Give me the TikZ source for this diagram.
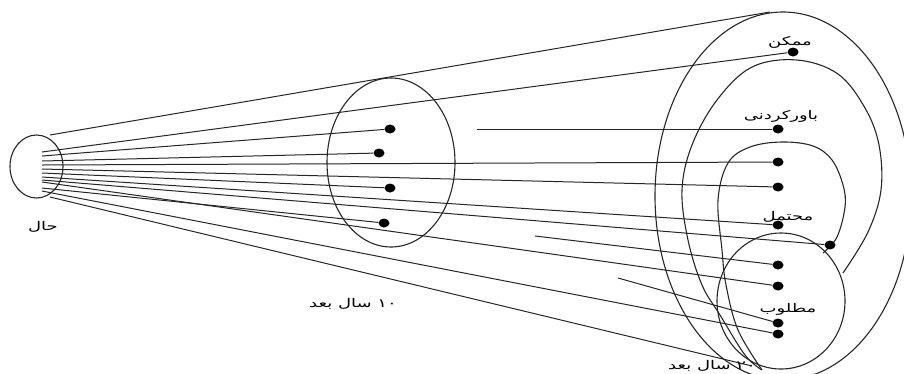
\documentclass[tikz,border=0pt]{standalone}
\usepackage{fontspec}
\newfontfamily\farsi[Script=Arabic]{DejaVu Sans}
\TeXXeTstate=1
\usetikzlibrary{shapes.geometric}
\definecolor{ink}{HTML}{262626}
\newcommand{\fa}[1]{\scalebox{1.5}[1]{\farsi\beginR #1\endR}}
\tikzset{
  shell/.style={draw=ink, line width=1.1pt},
  ray/.style={draw=ink, line width=1pt},
  dot/.style={ellipse, fill=black, inner sep=0pt,
    minimum width=11pt, minimum height=9pt},
  tag/.style={font=\farsi\fontsize{12}{13}\selectfont, inner sep=0pt},
}

\begin{document}
\begin{tikzpicture}[x=1pt, y=-1pt]
  \useasboundingbox (0,0) rectangle (904,373);
  % now
  \node[ellipse, shell, minimum width=53pt, minimum height=63pt] (now) at (36.5,166.5) {};
  \node[tag] (lnow) at (43,227) {\fa{حال}};
  % ten years on
  \node[ellipse, shell, minimum width=128pt, minimum height=169pt] (ten) at (391,162.5) {};
  \node[tag] (lten) at (353,304) {\fa{\beginL ۱۰\endL{} سال بعد}};
  % twenty years on
  \draw[shell] (783,196) ellipse [x radius=128pt, y radius=184pt];
  \draw[shell] plot[smooth, tension=0.6] coordinates {(843,273) (868,232) (881,190)
    (879,145) (865,108) (838,74) (797,60) (752,67) (717,100) (692,145) (682,190)
    (688,240) (702,285) (720,315) (745,355) (762,370)};
  \draw[shell] plot[smooth, tension=0.6] coordinates {(823,253) (837,237) (845,207)
    (843,185) (832,160) (813,146) (782,142) (750,147) (728,163) (718,200)
    (722,250) (726,285) (738,330) (762,370)};
  \draw[shell] (781,301) ellipse [x radius=64pt, y radius=68pt];
  \node[tag] (ltwenty) at (712,366) {\fa{\beginL ۲۰\endL{} سال بعد}};
  \node[tag] (lpos) at (790,42) {\fa{ممکن}};
  \node[tag] (lplau) at (781,116) {\fa{باورکردنی}};
  \node[tag] (lprob) at (788,217) {\fa{محتمل}};
  \node[tag] (lpref) at (788,309) {\fa{مطلوب}};
  % dots
  \node[dot] (m1) at (390,129) {};
  \node[dot] (m2) at (379,153) {};
  \node[dot] (m3) at (390,188) {};
  \node[dot] (m4) at (384,223) {};
  \node[dot] (r1) at (793,52) {};
  \node[dot] (r2) at (778,129) {};
  \node[dot] (r3) at (778,162) {};
  \node[dot] (r4) at (778,187) {};
  \node[dot] (r5) at (778,225) {};
  \node[dot] (r6) at (830,245) {};
  \node[dot] (r7) at (778,265) {};
  \node[dot] (r8) at (778,286) {};
  \node[dot] (r9) at (778,323) {};
  \node[dot] (r10) at (778,334) {};
  % start points
  \coordinate (crest) at (770,12);
  \coordinate (base) at (752,366);
  \coordinate (s0) at (50,135);
  \coordinate (s13) at (50,197);
  \foreach \n/\y in {1/152,2/156,3/161,4/165,5/169,6/173,7/177,8/180,9/182,10/188,11/191}
    \coordinate (s\n) at (42,\y);
  \coordinate (k1) at (477,129);
  \coordinate (k2) at (535,236);
  \coordinate (k3) at (618,278);
  % rays
  \foreach \a/\b in {s0/crest,s1/r1,s2/m1,s3/m2,s4/r3,s5/r4,s6/m3,s7/r5,s8/r6,
    s9/r8,s10/m4,s11/r10,s13/base,k1/r2,k2/r7,k3/r9}
    \draw[ray] (\a) -- (\b);
\end{tikzpicture}
\end{document}
